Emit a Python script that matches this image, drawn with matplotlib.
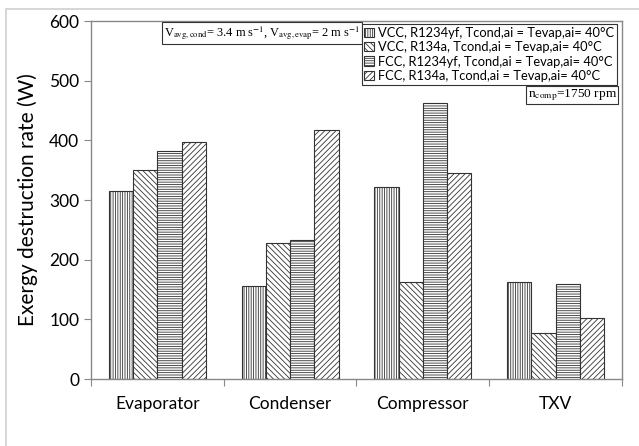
import matplotlib.pyplot as plt
import numpy as np
from matplotlib.patches import Rectangle

plt.rcParams['font.family'] = ['Lato', 'DejaVu Sans']
plt.rcParams['mathtext.fontset'] = 'stix'
plt.rcParams['hatch.linewidth'] = 0.6
plt.rcParams['hatch.color'] = '#333333'

# exergy destruction per component (W)
components = ['Evaporator', 'Condenser', 'Compressor', 'TXV']
vcc_r1234yf = [315, 156, 322, 163]
vcc_r134a = [351, 228, 163, 77]
fcc_r1234yf = [382, 233, 462, 160]
fcc_r134a = [398, 418, 346, 103]
series_labels = [
    'VCC, R1234yf, Tcond,ai = Tevap,ai= 40°C',
    'VCC, R134a, Tcond,ai = Tevap,ai= 40°C',
    'FCC, R1234yf, Tcond,ai = Tevap,ai= 40°C',
    'FCC, R134a, Tcond,ai = Tevap,ai= 40°C',
]
hatches = ['|' * 7, '\\' * 6, '-' * 7, '/' * 6]

fig = plt.figure(figsize=(6.39, 4.46), dpi=100)
ax = fig.add_axes([0.1424, 0.1502, 0.831, 0.8027])

# thin frame around the chart area
fig.patches.append(Rectangle((6 / 639, -0.1), 1.2, 1 - 9 / 446 + 0.1,
                             transform=fig.transFigure, fill=False,
                             edgecolor='#d0d0d0', linewidth=1.2))

x = np.arange(len(components))
width = 0.183
for i, (vals, lab, h) in enumerate(zip([vcc_r1234yf, vcc_r134a, fcc_r1234yf, fcc_r134a],
                                       series_labels, hatches)):
    ax.bar(x + (i - 1.5) * width, vals, width, label=lab, color='white',
           edgecolor='#333333', linewidth=0.8, hatch=h)

ax.set_xlim(-0.5, 3.5)
ax.set_ylim(0, 600)
ax.set_yticks(range(0, 601, 100))
ax.set_xticks(np.arange(-0.5, 3.6, 1.0))
ax.set_xticklabels([])
ax.set_xticks(x, minor=True)
ax.set_xticklabels(components, minor=True, fontsize=12.5)
ax.tick_params(axis='x', which='minor', length=0, pad=12)
ax.tick_params(axis='x', which='major', length=5, direction='out', color='#888888')
ax.tick_params(axis='y', length=5, direction='out', color='#888888', labelsize=12.5)
for s in ax.spines.values():
    s.set_color('#888888')
    s.set_linewidth(1.0)
ax.set_ylabel('Exergy destruction rate (W)', fontsize=15, labelpad=8)

leg = ax.legend(loc='upper right', bbox_to_anchor=(0.9906, 0.9916), borderaxespad=0,
                fontsize=9.3, handlelength=0.75, handleheight=0.75, handletextpad=0.3,
                labelspacing=0.18, borderpad=0.22, fancybox=False, framealpha=1)
leg.get_frame().set_edgecolor('#333333')
leg.get_frame().set_linewidth(0.8)

vtxt = ax.text(0.1375, 0.9916,
               r'V$_{\mathrm{avg,cond}}$= 3.4 m s$^{\mathrm{-1}}$, V$_{\mathrm{avg,evap}}$= 2 m s$^{\mathrm{-1}}$',
               transform=ax.transAxes, ha='left', va='top', fontsize=9.4,
               family='Liberation Serif',
               bbox=dict(boxstyle='square,pad=0.15', facecolor='white', edgecolor='#333333', linewidth=0.8))
ax.text(0.9906, 0.815, r'n$_{\mathrm{comp}}$=1750 rpm',
        transform=ax.transAxes, ha='right', va='top', fontsize=9.6,
        family='Liberation Serif',
        bbox=dict(boxstyle='square,pad=0.1', facecolor='white', edgecolor='#333333', linewidth=0.8))

# shrink the velocity box so it ends where the legend starts
fig.canvas.draw()
renderer = fig.canvas.get_renderer()
leg_left = leg.get_window_extent(renderer).x0
box = vtxt.get_bbox_patch().get_window_extent(renderer)
if box.x1 > leg_left - 1:
    vtxt.set_fontsize(9.4 * (leg_left - 1 - box.x0) / box.width)

fig.savefig('out.png', dpi=100)
